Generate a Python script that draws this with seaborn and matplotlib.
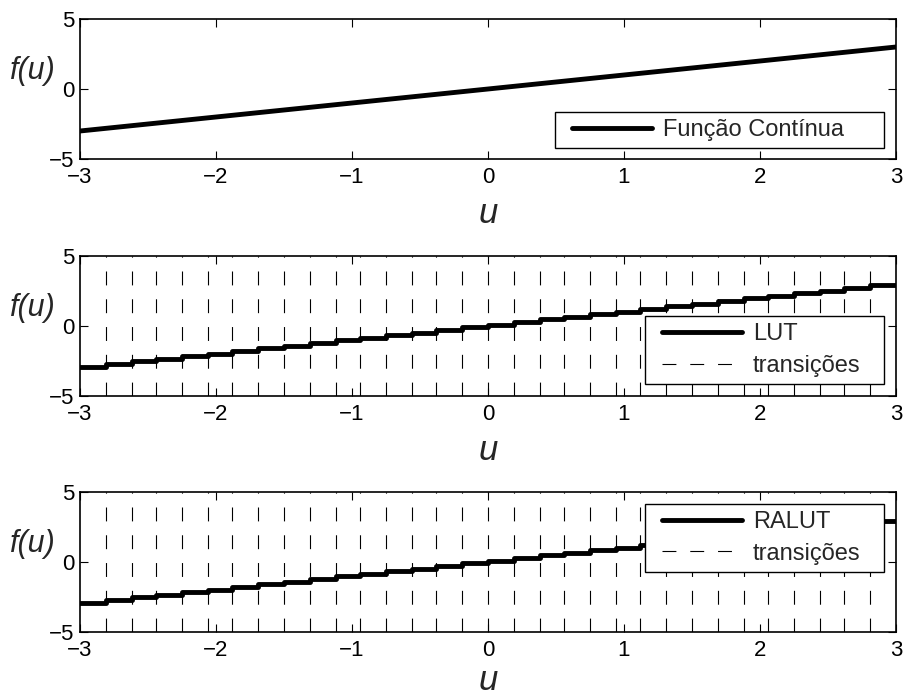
import matplotlib
matplotlib.use("Agg")
import matplotlib.pyplot as plt
from matplotlib.lines import Line2D
from matplotlib.legend_handler import HandlerLine2D
import seaborn as sns
import pandas as pd

# continuous function
u_cont = [-3.0, 3.0]
f_cont = [-3.0, 3.0]

# LUT / RALUT transitions and output levels
transitions = [-2.81, -2.62, -2.44, -2.25, -2.06, -1.88, -1.69, -1.50, -1.31, -1.12,
               -0.94, -0.75, -0.56, -0.38, -0.19, 0.00, 0.19, 0.38, 0.56, 0.75,
               0.94, 1.12, 1.31, 1.50, 1.69, 1.88, 2.06, 2.25, 2.44, 2.62, 2.81]
lut_levels = [-2.91, -2.72, -2.53, -2.34, -2.16, -1.97, -1.78, -1.59, -1.41, -1.22,
              -1.03, -0.84, -0.66, -0.47, -0.28, -0.09, 0.09, 0.28, 0.47, 0.66,
              0.84, 1.03, 1.22, 1.41, 1.59, 1.78, 1.97, 2.16, 2.34, 2.53, 2.72, 2.91]
ralut_levels = [-2.91, -2.72, -2.53, -2.34, -2.16, -1.97, -1.78, -1.59, -1.41, -1.22,
                -1.03, -0.84, -0.66, -0.47, -0.28, -0.09, 0.09, 0.28, 0.47, 0.66,
                0.84, 1.03, 1.22, 1.41, 1.59, 1.78, 1.97, 2.16, 2.34, 2.53, 2.72, 2.91]

x_ticks = [-3, -2, -1, 0, 1, 2, 3]
y_ticks = [-5, 0, 5]
y_lim = (-5, 5)

sns.set_theme(style="ticks", rc={
    "axes.edgecolor": "black",
    "axes.linewidth": 1.2,
    "xtick.direction": "in",
    "ytick.direction": "in",
    "xtick.top": True,
    "ytick.right": True,
    "xtick.major.size": 5.5,
    "ytick.major.size": 5.5,
    "xtick.major.width": 0.8,
    "ytick.major.width": 0.8,
    "xtick.color": "black",
    "ytick.color": "black",
    "xtick.major.pad": 6,
    "ytick.major.pad": 4,
    "lines.scale_dashes": False,
})
plt.rcParams["font.family"] = ["Liberation Sans", "DejaVu Sans"]

fig = plt.figure(figsize=(9.04, 7.0), dpi=100)
left, width, height = 80 / 904, 816 / 904, 140 / 700
bottoms = [541 / 700, 304 / 700, 68 / 700]
axes = [fig.add_axes([left, b, width, height]) for b in bottoms]

dash = (0, (10, 10))
# MATLAB-like legend: extra room left of the handle
leg_kw = dict(mode="expand", borderaxespad=0, fontsize=17, handlelength=3.8,
              handletextpad=0.47, borderpad=0.3, labelspacing=0.4, frameon=True,
              fancybox=False, edgecolor="black", framealpha=1,
              handler_map={Line2D: HandlerLine2D(xpad=0.42)})


def step_frame(levels):
    xs = [-3.0] + transitions + [3.0]
    ys = levels + [levels[-1]]
    return pd.DataFrame({"u": xs, "f": ys})


def trans_frame():
    rows = []
    for i, t in enumerate(transitions):
        rows.append({"u": t, "f": y_lim[0], "id": i})
        rows.append({"u": t, "f": y_lim[1], "id": i})
    return pd.DataFrame(rows)


# top: continuous function
ax = axes[0]
sns.lineplot(x=u_cont, y=f_cont, ax=ax, color="black", lw=3.5, estimator=None)
handles = [Line2D([], [], color="black", lw=3.5)]
ax.legend(handles, ["Função Contínua"], loc="lower left",
          bbox_to_anchor=(475 / 816, 11 / 140, 329 / 816, 0), **leg_kw)

# middle and bottom: LUT and RALUT
for ax, levels, name, loc, ypos in [
        (axes[1], lut_levels, "LUT", "lower left", 12 / 140),
        (axes[2], ralut_levels, "RALUT", "upper left", 128 / 140)]:
    sns.lineplot(data=trans_frame(), x="u", y="f", units="id", estimator=None,
                 sort=False, ax=ax, color="black", lw=0.8, linestyle=dash)
    sns.lineplot(data=step_frame(levels), x="u", y="f", ax=ax, color="black",
                 lw=3.5, estimator=None, drawstyle="steps-post")
    handles = [Line2D([], [], color="black", lw=3.5),
               Line2D([], [], color="black", lw=0.8, linestyle=dash)]
    ax.legend(handles, [name, "transições"], loc=loc,
              bbox_to_anchor=(565 / 816, ypos, 239 / 816, 0), **leg_kw)

for i, ax in enumerate(axes):
    ax.set_xlim(-3, 3)
    ax.set_ylim(*y_lim)
    ax.set_xticks(x_ticks)
    ax.set_yticks(y_ticks)
    ax.tick_params(labelsize=16)
    ax.get_legend().get_frame().set_linewidth(1.0)
    ax.set_xlabel("u", fontsize=25, style="italic")
    ax.set_ylabel("f(u)", fontsize=22, style="italic", rotation=0,
                  ha="right", va="center")
    # last label sits a bit higher so it stays inside the figure
    ax.xaxis.set_label_coords(0.5, -0.39 if i < 2 else -0.345)
    ax.xaxis.label.set_va("center")
    ax.yaxis.set_label_coords(-24 / 816, 0.63)

fig.savefig("out.png", dpi=100)
